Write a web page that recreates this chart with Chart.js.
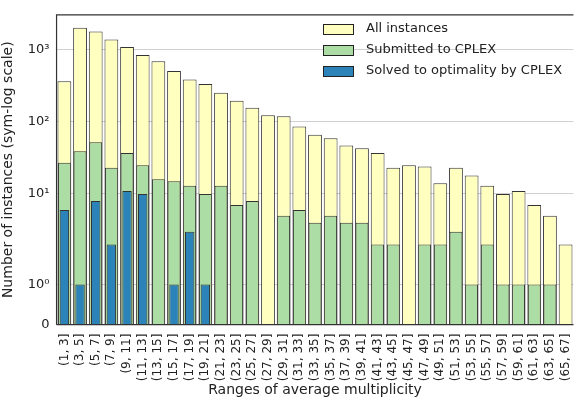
<!DOCTYPE html>
<html>
<head>
<meta charset="utf-8">
<script src="https://cdn.jsdelivr.net/npm/chart.js@4"></script>
<style>
  body { margin: 0; background: #fff; }
  #wrap { width: 581px; height: 400px; }
</style>
</head>
<body>
<div id="wrap"><canvas id="c"></canvas></div>
<script>
// bins (a, a+2]
const categories = [];
for (let a = 1; a < 67; a += 2) categories.push('(' + a + ', ' + (a + 2) + ']');

const allInstances = [363, 2000, 1775, 1378, 1084, 841, 689, 502, 383, 333, 251, 195, 156, 123, 119,
  86, 66, 59, 47, 43, 37, 23, 25, 24, 14, 23, 18, 13, 10, 11, 7, 5, 2];
const submitted = [27, 39, 52, 23, 37, 25, 16, 15, 13, 10, 13, 7, 8, 0, 5,
  6, 4, 5, 4, 4, 2, 2, 0, 2, 2, 3, 1, 2, 1, 1, 1, 1, 0];
const solved = [6, 1, 8, 2, 11, 10, 0, 1, 3, 1, 0, 0, 0, 0, 0,
  0, 0, 0, 0, 0, 0, 0, 0, 0, 0, 0, 0, 0, 0, 0, 0, 0, 0];
const tickValues = [0, 1, 10, 100, 1000];
const tickLabels = ['0', '10\u2070', '10\u00b9', '10\u00b2', '10\u00b3'];

// symlog, linthresh = 2, linscale = 1
const LINTHRESH = 2, LINSCALE = 1 / (1 - 1 / 10);
function symlog(v) {
  if (v <= LINTHRESH) return v / LINTHRESH * LINSCALE;
  return LINSCALE + Math.log10(v / LINTHRESH);
}

const colors = ['#ffffc0', '#abdda4', '#2b83ba'];
const names = ['All instances', 'Submitted to CPLEX', 'Solved to optimality by CPLEX'];
const series = [allInstances, submitted, solved];

const legendInside = {
  id: 'legendInside',
  afterDraw(chart) {
    const ctx = chart.ctx;
    const x = 323, y0 = 29;
    ctx.save();
    ctx.font = '13px "DejaVu Sans"';
    ctx.textBaseline = 'middle';
    names.forEach((n, i) => {
      const y = y0 + i * 21;
      ctx.fillStyle = colors[i];
      ctx.fillRect(x, y - 5, 30, 10);
      ctx.strokeStyle = '#222';
      ctx.lineWidth = 1;
      ctx.strokeRect(x + 0.5, y - 5 + 0.5, 30, 10);
      ctx.fillStyle = '#222';
      ctx.fillText(n, x + 43, y);
    });
    ctx.restore();
  }
};

const frame = {
  id: 'frame',
  afterDraw(chart) {
    const a = chart.chartArea, ctx = chart.ctx;
    ctx.save();
    ctx.strokeStyle = '#333';
    ctx.lineWidth = 1.2;
    ctx.beginPath();
    ctx.moveTo(a.left, a.bottom);
    ctx.lineTo(a.left, a.top);
    ctx.lineTo(a.right, a.top);
    ctx.moveTo(a.left, a.bottom);
    ctx.lineTo(a.right, a.bottom);
    ctx.stroke();
    ctx.restore();
  }
};

new Chart(document.getElementById('c'), {
  type: 'bar',
  data: {
    labels: categories,
    datasets: series.map((s, i) => ({
      label: names[i],
      data: s.map(symlog),
      backgroundColor: colors[i],
      borderColor: '#333',
      borderWidth: 1,
      grouped: false,
      order: 3 - i,
      categoryPercentage: 1,
      barPercentage: i === 0 ? 0.88 : (i === 1 ? 0.82 : 0.6)
    }))
  },
  options: {
    responsive: true,
    maintainAspectRatio: false,
    animation: false,
    layout: { padding: { top: 0, right: 0, left: 0, bottom: 0 } },
    plugins: { legend: { display: false }, tooltip: { enabled: false } },
    scales: {
      x: {
        grid: { display: false },
        border: { display: false },
        ticks: { color: '#222', font: { size: 12, family: 'DejaVu Sans' }, minRotation: 90, maxRotation: 90, autoSkip: false, padding: 1 },
        title: { display: true, text: 'Ranges of average multiplicity', color: '#222', font: { size: 14, family: 'DejaVu Sans' }, padding: { top: 0, bottom: 1 } }
      },
      y: {
        min: 0,
        max: 4.29,
        border: { display: false },
        grid: { color: '#d0d0d0', drawTicks: false },
        afterBuildTicks(scale) {
          scale.ticks = tickValues.map(v => ({ value: symlog(v) }));
        },
        ticks: {
          color: '#222',
          font: { size: 13, family: 'DejaVu Sans' },
          padding: 7,
          callback(value, index) { return tickLabels[index]; }
        },
        title: { display: true, text: 'Number of instances (sym-log scale)', color: '#222', font: { size: 14, family: 'DejaVu Sans' }, padding: { top: 0, bottom: 4 } }
      }
    }
  },
  plugins: [legendInside, frame]
});
</script>
</body>
</html>
